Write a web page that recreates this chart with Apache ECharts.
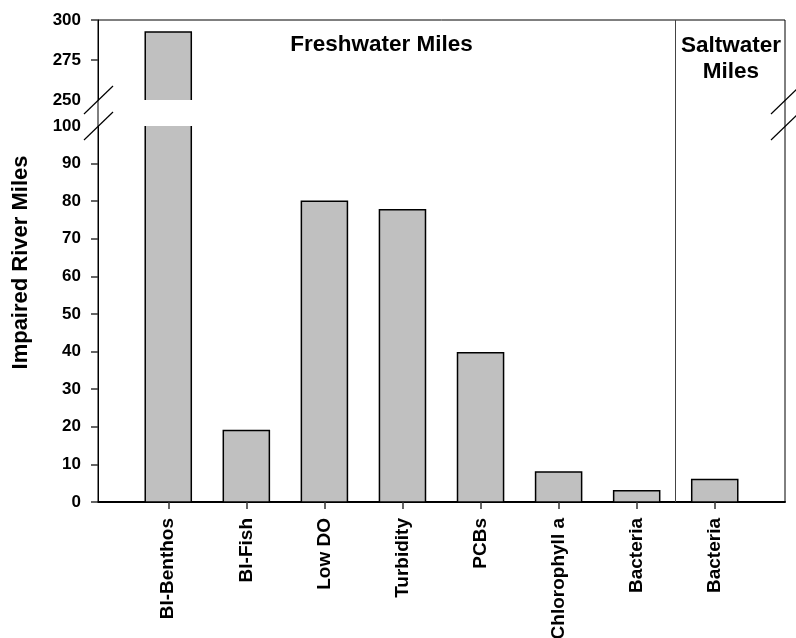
<!DOCTYPE html>
<html>
<head>
<meta charset="utf-8">
<script src="https://cdn.jsdelivr.net/npm/echarts@6/dist/echarts.min.js"></script>
<style>html,body{margin:0;padding:0;background:#fff}#c{width:796px;height:638px}</style>
</head>
<body>
<div id="c"></div>
<script>
// ---- data ----
const categories = ['BI-Benthos', 'BI-Fish', 'Low DO', 'Turbidity', 'PCBs', 'Chlorophyll a', 'Bacteria', 'Bacteria'];
const impairedMiles = [292.5, 19, 80, 77.7, 39.7, 8, 3, 6];
const lowerTicks = [0, 10, 20, 30, 40, 50, 60, 70, 80, 90, 100];
const upperTicks = [250, 275, 300];
const groupTitles = ['Freshwater Miles', 'Saltwater\nMiles'];
const yAxisTitle = 'Impaired River Miles';
const dividerAfter = 6.5; // boundary between freshwater and saltwater groups

// ---- layout ----
const L = 98, R = 785, T = 20, BH = 100, BL = 126, B = 502;
const FONT = 'Liberation Sans, Arial, sans-serif';
const idx = categories.map((c, i) => i);
const seriesData = impairedMiles.map((v, i) => [i, v]);

const chart = echarts.init(document.getElementById('c'), null, {renderer: 'canvas'});
const xBase = {type: 'value', min: -0.9, max: 7.9, splitLine: {show: false}};
const hiddenAxis = {show: false, axisLine: {show: false, onZero: false}, axisTick: {show: false}, axisLabel: {show: false}, splitLine: {show: false}};
const yLabel = {fontSize: 17, fontWeight: 'bold', color: '#000', fontFamily: FONT, margin: 17};

function renderBar(params, api) {
  const x = api.value(0), v = api.value(1);
  const top = api.coord([x, v]);
  const base = api.coord([x, 0]);
  const w = api.size([1, 0])[0] * 0.59;
  return {type: 'rect',
    shape: {x: top[0] - w / 2, y: top[1], width: w, height: base[1] - top[1]},
    style: {fill: '#c0c0c0', stroke: '#000', lineWidth: 1.5}};
}

function breakMark(cx, cy) {
  return {type: 'line', silent: true, z: 100,
    shape: {x1: cx - 14, y1: cy + 14, x2: cx + 15, y2: cy - 14},
    style: {stroke: '#000', lineWidth: 1.2}};
}

chart.setOption({
  animation: false,
  backgroundColor: '#fff',
  grid: [
    {left: L, top: BL, width: R - L, height: B - BL, outerBoundsMode: 'none', containLabel: false},
    {left: L, top: T, width: R - L, height: BH - T, outerBoundsMode: 'none', containLabel: false},
    {left: L, top: T, width: R - L, height: B - T, outerBoundsMode: 'none', containLabel: false,
      show: true, borderColor: '#000', borderWidth: 1, backgroundColor: 'transparent'}
  ],
  xAxis: [
    Object.assign({}, xBase, {gridIndex: 0,
      axisLine: {show: true, onZero: false, lineStyle: {color: '#000', width: 2}},
      axisTick: {show: true, customValues: idx, length: 7, lineStyle: {color: '#333', width: 1.5}},
      axisLabel: {customValues: idx, rotate: 90, margin: 16, formatter: v => categories[Math.round(v)],
        fontSize: 19, fontWeight: 'bold', color: '#000', fontFamily: FONT}}),
    Object.assign({}, xBase, hiddenAxis, {gridIndex: 1}),
    Object.assign({}, xBase, hiddenAxis, {gridIndex: 2})
  ],
  yAxis: [
    {type: 'value', gridIndex: 0, min: lowerTicks[0], max: lowerTicks[lowerTicks.length - 1], interval: 10,
      axisLine: {show: true, onZero: false, lineStyle: {color: '#000', width: 1}},
      axisTick: {show: true, length: 7, customValues: lowerTicks.slice(0, -1), lineStyle: {color: '#333', width: 1.5}},
      axisLabel: Object.assign({}, yLabel, {customValues: lowerTicks}),
      splitLine: {show: false}},
    {type: 'value', gridIndex: 1, min: upperTicks[0], max: upperTicks[upperTicks.length - 1], interval: 25,
      axisLine: {show: true, onZero: false, lineStyle: {color: '#000', width: 1}},
      axisTick: {show: true, length: 7, customValues: upperTicks.slice(1), lineStyle: {color: '#333', width: 1.5}},
      axisLabel: Object.assign({}, yLabel, {customValues: upperTicks}),
      splitLine: {show: false}},
    Object.assign({type: 'value', gridIndex: 2, min: 0, max: 1}, hiddenAxis)
  ],
  series: [
    {type: 'custom', xAxisIndex: 0, yAxisIndex: 0, data: seriesData, clip: true, renderItem: renderBar, z: 3,
      encode: {x: 0, y: 1}},
    {type: 'custom', xAxisIndex: 1, yAxisIndex: 1, data: seriesData, clip: true, renderItem: renderBar, z: 3,
      encode: {x: 0, y: 1}},
    {type: 'line', xAxisIndex: 2, yAxisIndex: 2, data: [], silent: true,
      markLine: {silent: true, symbol: ['none', 'none'], label: {show: false},
        lineStyle: {color: '#444', width: 1, type: 'solid'}, data: [{xAxis: dividerAfter}]}}
  ],
  graphic: [
    breakMark(L, BH), breakMark(L, BL), breakMark(R, BH), breakMark(R, BL),
    {type: 'text', x: 381.5, y: 45, silent: true,
      style: {text: groupTitles[0], align: 'center', verticalAlign: 'middle', fontSize: 22.5, fontWeight: 'bold', fontFamily: FONT, fill: '#000'}},
    {type: 'text', x: 731, y: 58.5, silent: true,
      style: {text: groupTitles[1], align: 'center', verticalAlign: 'middle', lineHeight: 26, fontSize: 22.5, fontWeight: 'bold', fontFamily: FONT, fill: '#000'}},
    {type: 'text', x: 21, y: 262.5, rotation: Math.PI / 2, silent: true,
      style: {text: yAxisTitle, align: 'center', verticalAlign: 'middle', fontSize: 22, fontWeight: 'bold', fontFamily: FONT, fill: '#000'}}
  ]
});
</script>
</body>
</html>
